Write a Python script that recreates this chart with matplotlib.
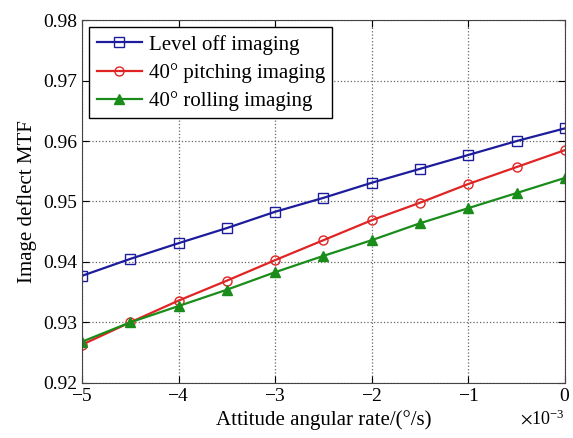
import matplotlib
matplotlib.use('Agg')
import matplotlib.pyplot as plt
from matplotlib.ticker import ScalarFormatter

plt.rcParams['font.family'] = ['Liberation Serif', 'DejaVu Serif']
plt.rcParams['mathtext.fontset'] = 'stix'

# attitude angular rate (deg/s)
rate = [-5e-3, -4.5e-3, -4e-3, -3.5e-3, -3e-3, -2.5e-3, -2e-3, -1.5e-3, -1e-3, -0.5e-3, 0.0]

level_off = [0.9377, 0.9405, 0.9431, 0.9456, 0.9483, 0.9506, 0.9531, 0.9554, 0.9577, 0.9600, 0.9621]
pitching = [0.9263, 0.9300, 0.9336, 0.9369, 0.9403, 0.9436, 0.9469, 0.9498, 0.9529, 0.9557, 0.9585]
rolling = [0.9268, 0.9300, 0.9327, 0.9354, 0.9383, 0.9410, 0.9436, 0.9464, 0.9489, 0.9514, 0.9539]

fig = plt.figure(figsize=(5.73, 4.38), dpi=100)
ax = fig.add_axes([0.143, 0.126, 0.843, 0.828])

ax.plot(rate, level_off, color='#1c1c9c', marker='s', mfc='none', ms=6.5, lw=1.6,
        label='Level off imaging')
ax.plot(rate, pitching, color='#e02424', marker='o', mfc='none', ms=6.5, lw=1.6,
        label='40° pitching imaging')
ax.plot(rate, rolling, color='#1a8c1a', marker='^', ms=6.5, lw=1.6,
        label='40° rolling imaging')

ax.set_xlim(-5e-3, 0)
ax.set_ylim(0.92, 0.98)
ax.set_yticks([0.92, 0.93, 0.94, 0.95, 0.96, 0.97, 0.98])

fmt = ScalarFormatter(useMathText=True)
fmt.set_powerlimits((-2, 2))
ax.xaxis.set_major_formatter(fmt)
ax.xaxis.get_offset_text().set_fontsize(13)

ax.grid(True, ls=':', color='#666666', lw=0.9)
ax.tick_params(direction='in', top=True, right=True, labelsize=14, length=5)
for s in ax.spines.values():
    s.set_color('#444444')

ax.set_xlabel('Attitude angular rate/(°/s)', fontsize=15)
ax.set_ylabel('Image deflect MTF', fontsize=15)

leg = ax.legend(loc='upper left', fontsize=15, fancybox=False, framealpha=1,
                edgecolor='black', handlelength=2.2, borderaxespad=0.35,
                labelspacing=0.4, handletextpad=0.3, borderpad=0.35)
leg.get_frame().set_linewidth(1.0)

fig.savefig('out.png', dpi=100)
